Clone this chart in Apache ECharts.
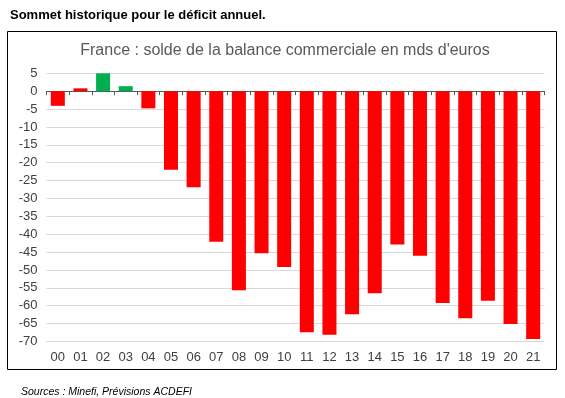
<!DOCTYPE html>
<html>
<head>
<meta charset="utf-8">
<script src="https://cdn.jsdelivr.net/npm/echarts@6/dist/echarts.min.js"></script>
<style>
  html, body { margin: 0; padding: 0; background: #fff; }
  #chart { width: 565px; height: 398px; }
</style>
</head>
<body>
<div id="chart"></div>
<script>
// années (00 = 2000 ... 21 = 2021)
const years = ["00", "01", "02", "03", "04", "05", "06", "07", "08", "09", "10",
  "11", "12", "13", "14", "15", "16", "17", "18", "19", "20", "21"];
// solde commercial, mds d'euros
const solde = [-4.1, 0.8, 5.1, 1.4, -4.8, -22, -26.9, -42.1, -55.7, -45.3, -49.2,
  -67.4, -68.1, -62.4, -56.5, -42.9, -46, -59.2, -63.5, -58.6, -65.1, -69.3];
const yMin = -70;
const yMax = 5;
const yStep = 5;

const font = "'Liberation Sans', Arial, sans-serif";

let myChart = echarts.init(document.getElementById("chart"));
myChart.setOption({
  animation: false,
  textStyle: { fontFamily: font },
  title: [
    {
      text: "Sommet historique pour le déficit annuel.",
      left: 5,
      top: 4,
      textStyle: { fontFamily: font, fontSize: 13, fontWeight: "bold", color: "#000" }
    },
    {
      text: "France : solde de la balance commerciale en mds d'euros",
      left: 280,
      textAlign: "center",
      top: 38,
      textStyle: { fontFamily: font, fontSize: 16, fontWeight: "normal", color: "#595959" }
    },
    {
      text: "Sources : Minefi, Prévisions ACDEFI",
      left: 16,
      top: 382,
      textStyle: { fontFamily: font, fontSize: 10.5, fontStyle: "italic", fontWeight: "normal", color: "#000" }
    }
  ],
  graphic: [
    {
      type: "rect",
      shape: { x: 7.5, y: 31.5, width: 549, height: 338 },
      style: { fill: "none", stroke: "#000", lineWidth: 1 },
      silent: true
    }
  ],
  grid: { left: 46.5, right: 20.5, top: 73.3, bottom: 56.5, containLabel: false },
  xAxis: [
    {
      type: "category",
      data: years,
      position: "bottom",
      axisLine: { onZero: true, lineStyle: { color: "#595959", width: 1 } },
      axisTick: { show: true, length: 4, lineStyle: { color: "#595959" } },
      axisLabel: { show: false }
    },
    {
      type: "category",
      data: years,
      position: "bottom",
      axisLine: { show: false, onZero: false },
      axisTick: { show: false },
      axisLabel: { margin: 9, fontSize: 13, color: "#404040", fontFamily: font }
    }
  ],
  yAxis: {
    type: "value",
    min: yMin,
    max: yMax,
    interval: yStep,
    axisLine: { show: false },
    axisTick: { show: false },
    axisLabel: { margin: 9, fontSize: 13, color: "#404040", fontFamily: font },
    splitLine: { lineStyle: { color: "#d9d9d9", width: 1 } }
  },
  series: [
    {
      type: "bar",
      xAxisIndex: 0,
      data: solde,
      barCategoryGap: "38%",
      itemStyle: {
        color: function (p) {
          return p.value > 1 ? "#00b050" : "#ff0000";
        }
      }
    }
  ]
});
</script>
</body>
</html>
